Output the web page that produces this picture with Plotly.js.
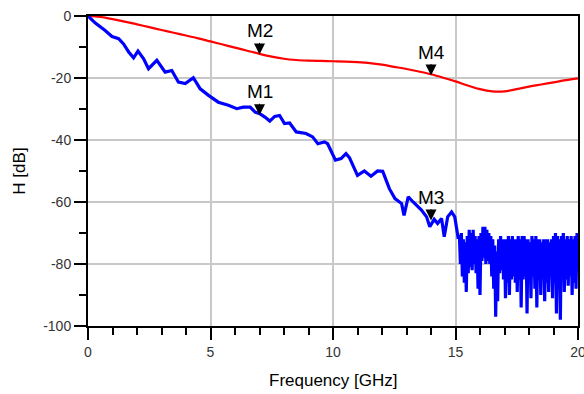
<!DOCTYPE html>
<html>
<head>
<meta charset="utf-8">
<script src="https://cdn.plot.ly/plotly-3.0.1.min.js"></script>
<style>
  html, body { margin: 0; padding: 0; background: #ffffff; }
  #chart { width: 584px; height: 394px; }
</style>
</head>
<body>
<div id="chart"></div>
<script>
// Red trace (smooth response), frequency in GHz, H in dB
const freqRed = [0, 0.5, 1, 1.5, 2, 2.5, 3, 3.5, 4, 4.5, 5, 5.5, 6, 6.5, 7, 7.5, 8, 8.5, 9, 9.5, 10,
  10.5, 11, 11.5, 12, 12.5, 13, 13.5, 14, 14.5, 15, 15.5, 16, 16.5, 17, 17.5, 18, 18.5, 19, 19.5, 20];
const hRed = [0, -0.3, -1.0, -1.8, -2.7, -3.6, -4.5, -5.4, -6.3, -7.2, -8.2, -9.2, -10.2, -11.2, -12.2, -13.1, -13.8, -14.2, -14.4, -14.5, -14.6,
  -14.7, -14.9, -15.2, -15.7, -16.4, -17.1, -17.9, -18.8, -19.9, -21.1, -22.4, -23.6, -24.3, -24.3, -23.6, -22.8, -22.1, -21.4, -20.7, -20.1];

// Blue trace (noisy response)
const freqBlue = [0, 0.3, 0.7, 0.98, 1.25, 1.45, 1.66, 1.86, 2.04, 2.27, 2.47, 2.81, 3.15, 3.42, 3.69, 3.97,
  4.3, 4.58, 4.92, 5.32, 5.73, 6.07, 6.34, 6.62, 6.82, 7.01, 7.22, 7.42, 7.62, 7.82, 8.02, 8.23, 8.5, 8.63,
  8.9, 9.17, 9.38, 9.65, 9.78, 10.1, 10.33, 10.53, 10.67, 11.0, 11.28, 11.55, 11.82, 12.03, 12.3, 12.53,
  12.8, 12.9, 13.07, 13.27, 13.41, 13.61, 13.82, 13.95, 14.13, 14.27, 14.43, 14.54, 14.68, 14.84, 14.97, 15.1,
  15.16, 15.20, 15.24, 15.28, 15.32, 15.36, 15.40, 15.44, 15.48, 15.52, 15.56, 15.60, 15.64, 15.68, 15.72, 15.76,
  15.80, 15.84, 15.88, 15.92, 15.96, 16.00, 16.04, 16.08, 16.12, 16.16, 16.20, 16.24, 16.28, 16.32, 16.36, 16.40,
  16.44, 16.48, 16.52, 16.56, 16.60, 16.64, 16.68, 16.72, 16.76, 16.80, 16.84, 16.88, 16.92, 16.96, 17.00, 17.04,
  17.08, 17.12, 17.16, 17.20, 17.24, 17.28, 17.32, 17.36, 17.40, 17.44, 17.48, 17.52, 17.56, 17.60, 17.64, 17.68,
  17.72, 17.76, 17.80, 17.84, 17.88, 17.92, 17.96, 18.00, 18.04, 18.08, 18.12, 18.16, 18.20, 18.24, 18.28, 18.32,
  18.36, 18.40, 18.44, 18.48, 18.52, 18.56, 18.60, 18.64, 18.68, 18.72, 18.76, 18.80, 18.84, 18.88, 18.92, 18.96,
  19.00, 19.04, 19.08, 19.12, 19.16, 19.20, 19.24, 19.28, 19.32, 19.36, 19.40, 19.44, 19.48, 19.52, 19.56, 19.60,
  19.64, 19.68, 19.72, 19.76, 19.80, 19.84, 19.88, 19.92, 19.96, 20.00];
const hBlue = [0, -2.3, -4.7, -6.6, -7.3, -9.0, -11.6, -13.5, -11.3, -13.8, -17.0, -14.3, -18.1, -17.6, -21.3, -21.8,
  -19.9, -23.5, -25.6, -27.8, -28.8, -29.9, -29.4, -29.4, -31.0, -31.5, -32.6, -33.9, -32.4, -32.1, -34.7, -34.5, -37.4, -37.6,
  -37.9, -39.0, -41.2, -40.6, -41.2, -46.5, -46.0, -44.4, -45.7, -51.4, -50.0, -51.7, -50.0, -50.1, -55.7, -58.9,
  -60.5, -64.3, -58.3, -60.0, -61.0, -62.6, -64.8, -68.0, -65.6, -66.9, -65.3, -71.2, -64.8, -63.2, -64.8, -71.2,
  -71, -80, -70, -84, -72, -86, -73, -89, -71, -83, -69, -81, -70, -82, -69, -80,
  -71, -83, -72, -88, -71, -90, -70, -79, -68, -78, -68, -80, -69, -79, -70, -80,
  -71, -84, -72, -88, -74, -97, -76, -92, -72, -83, -71, -82, -72, -85, -72, -91,
  -72, -86, -71, -90, -72, -85, -71, -84, -72, -86, -72, -89, -71, -85, -72, -94,
  -71, -85, -71, -84, -72, -96, -72, -86, -73, -91, -71, -84, -72, -88, -71, -94,
  -72, -85, -72, -90, -73, -84, -72, -92, -72, -86, -72, -89, -73, -84, -72, -91,
  -71, -86, -70, -96, -71, -85, -72, -98, -71, -84, -70, -89, -72, -85, -71, -87,
  -72, -84, -71, -90, -72, -86, -71, -88, -70, -75];

// Markers
const markerNames = ['M1', 'M2', 'M3', 'M4'];
const markerFreq = [7, 7, 14, 14];
const markerH = [-32.0, -12.4, -66.0, -19.2];

// Axis ticks and titles
const xTickVals = [0, 5, 10, 15, 20];
const xTickText = ['0', '5', '10', '15', '20'];
const yTickVals = [0, -20, -40, -60, -80, -100];
const yTickText = ['0', '-20', '-40', '-60', '-80', '-100'];
const xTitle = 'Frequency [GHz]';
const yTitle = 'H [dB]';

const traces = [
  {
    x: freqRed, y: hRed, type: 'scatter', mode: 'lines',
    line: { color: '#ff0000', width: 2.2, shape: 'spline' },
    hoverinfo: 'skip'
  },
  {
    x: freqBlue, y: hBlue, type: 'scatter', mode: 'lines',
    line: { color: '#0000ff', width: 3.2 },
    hoverinfo: 'skip'
  }
];

// Marker labels with a filled triangular arrowhead whose tip sits on the curve
const annotations = markerNames.map((name, i) => ({
  x: markerFreq[i], y: markerH[i], xref: 'x', yref: 'y',
  text: name, showarrow: true,
  arrowhead: 2, arrowsize: 2.2, arrowwidth: 1, arrowcolor: '#000000',
  ax: 0, ay: -23.5, standoff: 0,
  font: { family: 'Arial, Liberation Sans, sans-serif', size: 19, color: '#000000' }
}));
annotations.push({
  x: 0.5, y: -0.177, xref: 'paper', yref: 'paper',
  text: xTitle, showarrow: false, xanchor: 'center', yanchor: 'middle',
  font: { family: 'Arial, Liberation Sans, sans-serif', size: 17, color: '#000000' }
});

const axisCommon = {
  showline: true, linecolor: '#000000', linewidth: 2, mirror: true,
  showgrid: true, gridcolor: '#c8c8c8', gridwidth: 2,
  zeroline: false,
  ticks: 'outside', ticklen: 12, tickwidth: 2, tickcolor: '#000000',
  tickfont: { family: 'Arial, Liberation Sans, sans-serif', size: 14, color: '#333333' },
  tickmode: 'array',
  ticklabeloverflow: 'allow',
  automargin: false
};

const layout = {
  width: 584, height: 394,
  margin: { l: 88, r: 6, t: 15.5, b: 68 },
  paper_bgcolor: '#ffffff', plot_bgcolor: '#ffffff',
  showlegend: false,
  font: { family: 'Arial, Liberation Sans, sans-serif', color: '#000000' },
  xaxis: Object.assign({}, axisCommon, {
    range: [0, 20],
    tickvals: xTickVals, ticktext: xTickText,
    minor: { dtick: 1, tick0: 0, ticks: 'outside', ticklen: 7, tickwidth: 2, tickcolor: '#000000', showgrid: false }
  }),
  yaxis: Object.assign({}, axisCommon, {
    range: [-100, 0],
    tickvals: yTickVals, ticktext: yTickText,
    minor: { dtick: 10, tick0: 0, ticks: 'outside', ticklen: 7, tickwidth: 2, tickcolor: '#000000', showgrid: false },
    title: { text: yTitle, font: { size: 17, color: '#000000' }, standoff: 13 }
  }),
  annotations: annotations
};

Plotly.newPlot('chart', traces, layout, { staticPlot: true, displayModeBar: false });
</script>
</body>
</html>
